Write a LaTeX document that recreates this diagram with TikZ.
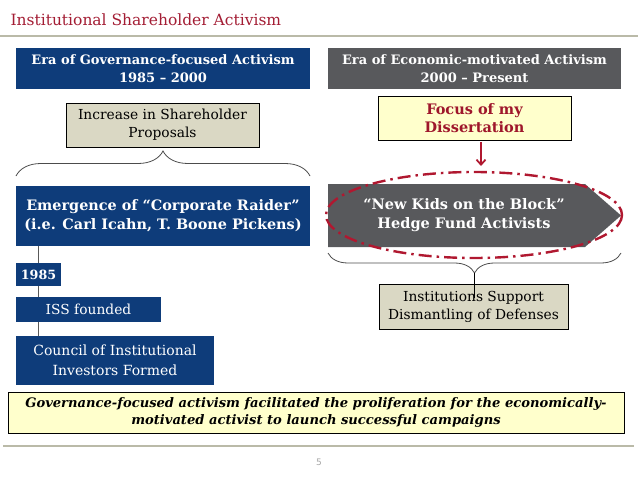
\documentclass[tikz,border=0pt]{standalone}
\usepackage{fontspec}
\setmainfont{DejaVu Serif}
\setsansfont{DejaVu Sans}
\usetikzlibrary{arrows.meta,decorations.pathreplacing,backgrounds}
\definecolor{eraBlue}{RGB}{14,60,122}
\definecolor{eraGray}{RGB}{88,89,92}
\definecolor{titleRed}{RGB}{163,29,52}
\definecolor{ovalRed}{RGB}{176,24,48}
\definecolor{boxTan}{RGB}{218,216,196}
\definecolor{boxYellow}{RGB}{255,255,204}
\definecolor{ruleGray}{RGB}{186,186,168}
\newcommand{\boxfont}{\fontsize{13.8}{18}\selectfont}

\begin{document}
\begin{tikzpicture}[x=1pt,y=-1pt,
    blue box/.style={fill=eraBlue,text=white,align=center,inner sep=0pt,font=\boxfont},
    gray box/.style={fill=eraGray,text=white,align=center,inner sep=0pt,font=\boxfont},
    tan box/.style={draw=black,fill=boxTan,align=center,inner sep=0pt,line width=0.8pt,font=\boxfont},
    note box/.style={draw=black,fill=boxYellow,align=center,inner sep=0pt,line width=0.8pt},
    brace line/.style={decorate,decoration={brace,amplitude=#1},draw=black!70,line width=0.8pt},
    rule line/.style={draw=ruleGray,line width=1.6pt}]
  \useasboundingbox (0,0) rectangle (638,479);
  \node[anchor=base west,text=titleRed,font=\fontsize{15.5}{18}\selectfont] (title) at (7,25) {Institutional Shareholder Activism};
  \coordinate (ruleL) at (0,36);
  \coordinate (ruleR) at (638,36);
  \draw[rule line] (ruleL) -- (ruleR);

  \node[blue box,minimum width=294,minimum height=41,font=\fontsize{13}{18.5}\selectfont] (govEra) at (163,68.5) {\bfseries Era of Governance-focused Activism\\\bfseries 1985 -- 2000};
  \node[gray box,minimum width=293,minimum height=41,font=\fontsize{13}{18.5}\selectfont] (ecoEra) at (474.5,68.5) {\bfseries Era of Economic-motivated Activism\\\bfseries 2000 -- Present};

  \node[tan box,minimum width=193,minimum height=44] (proposals) at (162.5,125) {Increase in Shareholder\\Proposals};
  \coordinate (braceGL) at (16,176);
  \coordinate (braceGR) at (310,176);
  \draw[brace line=25pt] (braceGL) -- (braceGR);

  \node[blue box,minimum width=294,minimum height=60,font=\fontsize{14.4}{19}\selectfont] (raider) at (163,216) {\bfseries Emergence of “Corporate Raider”\\\bfseries (i.e. Carl Icahn, T. Boone Pickens)};
  \node[blue box,minimum width=45,minimum height=23,font=\fontsize{12.7}{15}\selectfont] (year) at (38.5,274.5) {\bfseries 1985};
  \node[blue box,minimum width=145,minimum height=25] (iss) at (88.5,309.5) {ISS founded};
  \node[blue box,minimum width=198,minimum height=49,font=\fontsize{14}{20}\selectfont] (council) at (115,360.5) {Council of Institutional\\Investors Formed};
  \begin{scope}[on background layer]
    \draw[black!65,line width=0.8pt] (raider.south -| year.north) -- (council.north -| year.north);
  \end{scope}

  \node[note box,minimum width=193,minimum height=44,text=ovalRed!90!black,font=\fontsize{14.5}{18}\selectfont] (focus) at (474.5,118) {\bfseries Focus of my\\\bfseries Dissertation};
  \coordinate (focusOut) at (481,142);
  \coordinate (focusIn) at (481,166);
  \draw[ovalRed,line width=1.8pt,-{Straight Barb[length=5pt,width=9pt]}] (focusOut) -- (focusIn);

  \fill[eraGray] (328,184) -- (585,184) -- (621,215.5) -- (585,247) -- (328,247) -- cycle;
  \node[text=white,align=center,font=\fontsize{14.5}{19}\selectfont] (kids) at (464,215.5) {\bfseries “New Kids on the Block”\\\bfseries Hedge Fund Activists};
  \draw[ovalRed,line width=2.4pt,dash pattern=on 13pt off 5pt on 2.5pt off 5pt] (474,215) ellipse [x radius=148,y radius=43];

  \coordinate (braceER) at (621,253);
  \coordinate (braceEL) at (328,253);
  \draw[brace line=20pt] (braceER) -- (braceEL);
  \node[tan box,minimum width=189,minimum height=45] (defenses) at (473.5,306.5) {Institutions Support\\Dismantling of Defenses};
  \coordinate (braceTip) at (474.5,273);
  \coordinate (tipEnd) at (474.5,298);
  \draw[black,line width=0.7pt] (braceTip) -- (tipEnd);

  \node[note box,minimum width=616,minimum height=41,font=\fontsize{13.1}{17}\selectfont] (lesson) at (316,412.5) {\bfseries\itshape Governance-focused activism facilitated the proliferation for the economically-\\\bfseries\itshape motivated activist to launch successful campaigns};
  \coordinate (footL) at (3,446);
  \coordinate (footR) at (634,446);
  \draw[rule line,line width=1.2pt] (footL) -- (footR);
  \node[text=black!35,font=\sffamily\fontsize{9}{10}\selectfont] (page) at (319,462) {5};
\end{tikzpicture}
\end{document}
